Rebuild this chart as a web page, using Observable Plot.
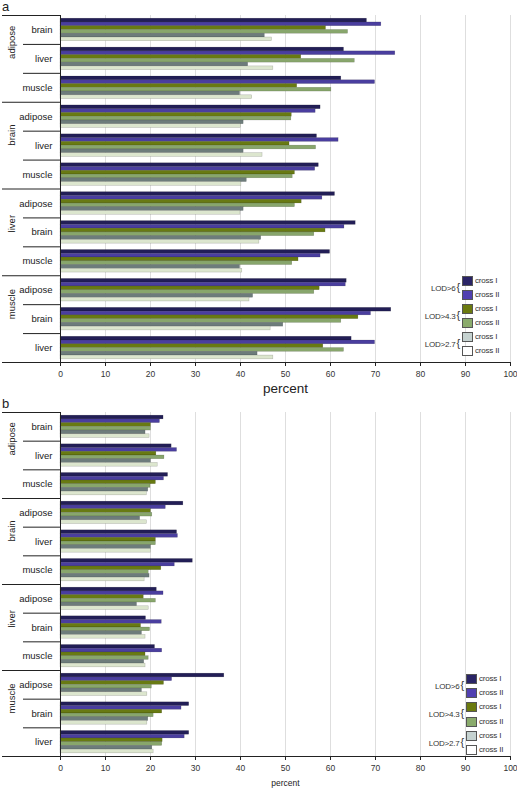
<!DOCTYPE html>
<html><head><meta charset="utf-8">
<script src="https://cdn.jsdelivr.net/npm/d3@7"></script>
<script src="https://cdn.jsdelivr.net/npm/@observablehq/plot@0.6"></script>
<style>
body{margin:0;background:#fff;font-family:"Liberation Sans",Arial,sans-serif;}
#wrap{position:relative;width:517px;height:793px;overflow:hidden;}
#wrap svg{position:absolute;left:0;}
.plabel{position:absolute;left:2px;font-size:13px;color:#222;line-height:13px;}
.sw{position:absolute;width:9px;height:8px;border:1px solid #555;}
.lt{position:absolute;font-size:8px;color:#333;line-height:8px;white-space:nowrap;letter-spacing:-0.2px;}
.lod{position:absolute;font-size:8px;color:#333;line-height:10px;white-space:nowrap;text-align:right;letter-spacing:-0.2px;}
.lod span{font-size:11px;margin-left:1px;}
</style></head><body><div id="wrap"></div>
<script>
// ---------- data ----------
const outerTissues = ["adipose", "brain", "liver", "muscle"];
const innerTissues = [
  ["brain", "liver", "muscle"],
  ["adipose", "liver", "muscle"],
  ["adipose", "brain", "muscle"],
  ["adipose", "brain", "liver"]
];
const thresholds = ["LOD>6", "LOD>4.3", "LOD>2.7"];
const crosses = ["cross I", "cross II"];
const seriesNames = ["LOD>6 cross I", "LOD>6 cross II", "LOD>4.3 cross I", "LOD>4.3 cross II", "LOD>2.7 cross I", "LOD>2.7 cross II"];
const barColors = ["#221e56", "#4a3e9f", "#687a12", "#88a66c", "#6d7c7b", "#dce6ce"];
const legendColors = ["#2a2466", "#5140b0", "#6b7a0e", "#8aab6c", "#c5d2d0", "#ffffff"];
const xTicks = [0, 10, 20, 30, 40, 50, 60, 70, 80, 90, 100];

// panel a (12 groups in order: adipose-brain ... muscle-liver)
const aLod6CrossI   = [68.1, 63.0, 62.4, 57.8, 57.0, 57.4, 61.0, 65.6, 59.9, 63.6, 73.5, 64.7];
const aLod6CrossII  = [71.3, 74.4, 69.9, 56.7, 61.8, 56.6, 58.2, 63.1, 57.8, 63.4, 69.0, 69.9];
const aLod43CrossI  = [59.0, 53.5, 52.6, 51.4, 50.9, 52.1, 53.6, 58.9, 52.9, 57.6, 66.2, 58.4];
const aLod43CrossII = [63.9, 65.4, 60.2, 51.3, 56.8, 51.6, 52.1, 56.4, 51.5, 56.4, 62.4, 63.0];
const aLod27CrossI  = [45.4, 41.7, 39.9, 40.7, 40.7, 41.4, 40.7, 44.6, 39.9, 42.8, 49.5, 43.8];
const aLod27CrossII = [47.0, 47.3, 42.6, 40.1, 44.9, 40.2, 40.0, 44.2, 40.4, 42.0, 46.7, 47.3];

// panel b
const bLod6CrossI   = [22.9, 24.7, 23.9, 27.3, 25.9, 29.4, 21.4, 19.0, 21.0, 36.4, 28.6, 28.6];
const bLod6CrossII  = [22.1, 25.9, 23.0, 23.4, 26.1, 25.4, 22.9, 22.5, 22.6, 24.8, 26.9, 27.6];
const bLod43CrossI  = [20.1, 21.3, 21.2, 20.1, 21.2, 22.4, 18.5, 17.9, 18.9, 23.0, 22.6, 22.7];
const bLod43CrossII = [20.1, 23.1, 20.0, 20.4, 21.2, 19.6, 21.2, 19.9, 19.6, 20.3, 20.7, 22.6];
const bLod27CrossI  = [18.9, 20.1, 19.5, 17.7, 20.1, 19.8, 17.0, 18.1, 18.6, 18.1, 19.5, 20.4];
const bLod27CrossII = [19.8, 21.6, 19.2, 19.2, 20.1, 18.7, 19.6, 18.9, 18.9, 19.3, 19.3, 20.7];

const panelA = [aLod6CrossI, aLod6CrossII, aLod43CrossI, aLod43CrossII, aLod27CrossI, aLod27CrossII];
const panelB = [bLod6CrossI, bLod6CrossII, bLod43CrossI, bLod43CrossII, bLod27CrossI, bLod27CrossII];

// ---------- build ----------
const groups = [];
outerTissues.forEach((o, oi) => innerTissues[oi].forEach((t, ti) => groups.push({g: oi * 3 + ti, outer: o, inner: t})));
const outerRows = outerTissues.map((o, oi) => ({o: oi, outer: o}));
const barPad = 0.11, barH = 0.13;
const font = "Liberation Sans, Arial, sans-serif";

function panel(values, cfg) {
  const rows = [];
  groups.forEach(gr => values.forEach((arr, si) => rows.push({g: gr.g, s: si, series: seriesNames[si], v: arr[gr.g]})));
  const plotW = 517 - 60 - 7;
  return Plot.plot({
    width: 517, height: cfg.height,
    marginLeft: 60, marginRight: 7, marginTop: cfg.mt, marginBottom: cfg.mb,
    x: {domain: [0, 100]},
    y: {domain: [0, 12], reverse: true, axis: null},
    color: {domain: seriesNames, range: barColors},
    style: {fontFamily: font, fontSize: "8.5px", background: "white", color: "#333"},
    marks: [
      Plot.gridX({ticks: xTicks.slice(1), stroke: "#dedede", strokeOpacity: 1}),
      Plot.rectX(rows, {
        x1: 0, x2: "v",
        y1: d => d.g + barPad + d.s * barH,
        y2: d => d.g + barPad + (d.s + 1) * barH,
        fill: "series", stroke: "#000", strokeOpacity: 0.25, strokeWidth: 0.5
      }),
      Plot.axisX({ticks: xTicks, tickSize: 4, tickPadding: 4, label: null, stroke: "#222", fontSize: 8.5}),
      Plot.ruleX([0], {stroke: "#222"}),
      Plot.ruleY([12], {stroke: "#222", insetLeft: -58}),
      Plot.ruleY([0, 3, 6, 9], {stroke: "#222", insetLeft: -58, insetRight: plotW}),
      Plot.ruleY([1, 2, 4, 5, 7, 8, 10, 11], {stroke: "#222", insetLeft: -37, insetRight: plotW}),
      Plot.text(groups, {y: d => d.g + 0.5, text: "inner", frameAnchor: "left", textAnchor: "end", dx: -8, fontSize: 9.5, fill: "#222"}),
      Plot.text(outerRows, {y: d => d.o * 3 + 1.5, text: "outer", frameAnchor: "left", rotate: -90, dx: -49, fontSize: 9.5, fill: "#222"}),
      Plot.text(["percent"], {text: d => d, frameAnchor: "bottom", dy: cfg.titleDy, fontSize: cfg.titleSize, fill: "#222"})
    ]
  });
}

const wrap = document.getElementById("wrap");
const svgA = panel(panelA, {height: 398, mt: 15, mb: 36, titleDy: 30, titleSize: 13.5});
svgA.style.top = "0px";
wrap.appendChild(svgA);
const svgB = panel(panelB, {height: 395, mt: 14, mb: 37, titleDy: 29, titleSize: 8.5});
svgB.style.top = "398px";
wrap.appendChild(svgB);

function addLabel(txt, top) {
  const d = document.createElement("div");
  d.className = "plabel"; d.textContent = txt; d.style.top = top + "px";
  wrap.appendChild(d);
}
addLabel("a", 0);
addLabel("b", 397);

function legend(left, tops) {
  seriesNames.forEach((s, i) => {
    const sw = document.createElement("div");
    sw.className = "sw";
    sw.style.left = left + "px"; sw.style.top = tops[i] + "px";
    sw.style.background = legendColors[i];
    wrap.appendChild(sw);
    const t = document.createElement("div");
    t.className = "lt"; t.textContent = crosses[i % 2];
    t.style.left = (left + 13) + "px"; t.style.top = (tops[i] + 1) + "px";
    wrap.appendChild(t);
  });
  thresholds.forEach((th, k) => {
    const l = document.createElement("div");
    l.className = "lod";
    l.innerHTML = th + "<span>{</span>";
    l.style.right = (517 - left + 2) + "px";
    l.style.top = (tops[2 * k] + 6) + "px";
    wrap.appendChild(l);
  });
}
legend(462, [276, 290, 304, 318, 332, 346]);
legend(466, [674, 688, 702, 717, 731, 745]);
</script>
</body></html>
